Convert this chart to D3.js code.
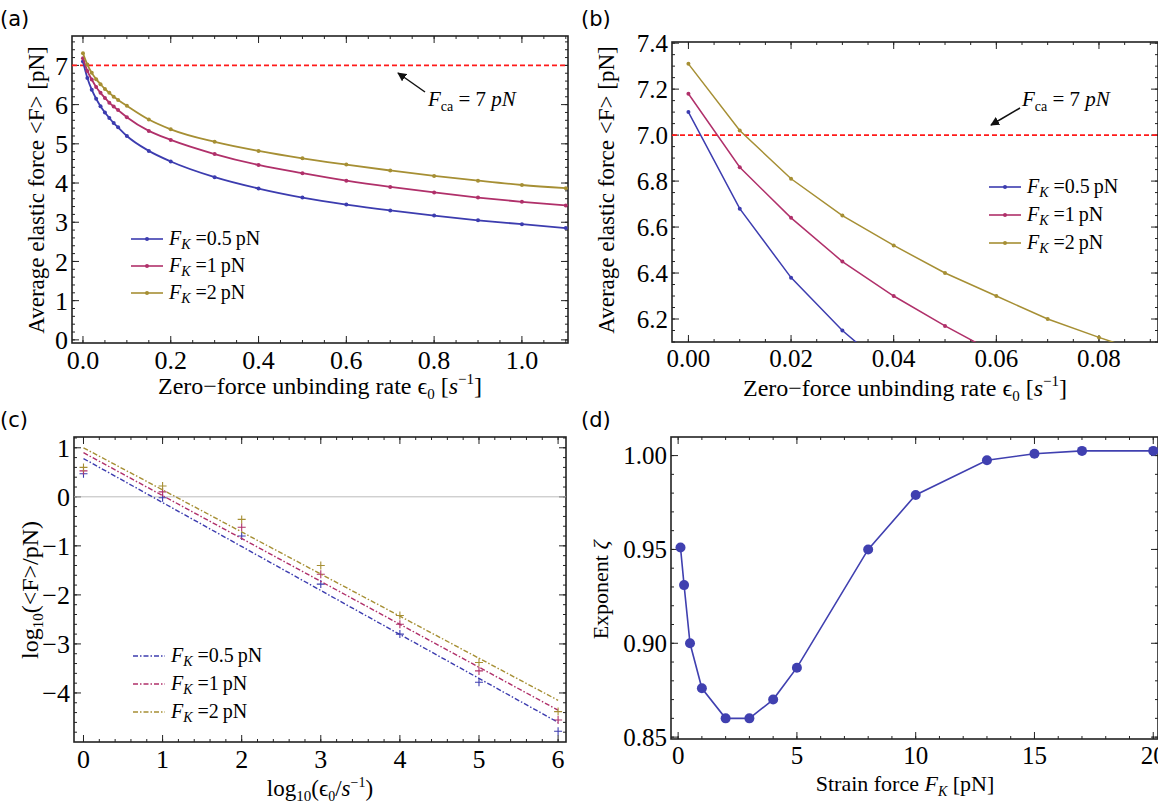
<!DOCTYPE html>
<html><head><meta charset="utf-8">
<script src="https://cdn.jsdelivr.net/npm/d3@7"></script>
<style>body{margin:0;background:#fff}svg{font-family:"Liberation Serif","DejaVu Serif",serif}</style>
</head><body><svg id="fig" width="1158" height="803"></svg>
<script>
// panel a/b data
const eps = [0,0.01,0.02,0.03,0.04,0.05,0.06,0.07,0.08,0.1,0.15,0.2,0.3,0.4,0.5,0.6,0.7,0.8,0.9,1.0,1.1];
const fBlue = [7.1,6.68,6.38,6.15,5.96,5.8,5.66,5.53,5.42,5.2,4.82,4.55,4.15,3.86,3.63,3.45,3.3,3.17,3.05,2.95,2.85];
const fPink = [7.18,6.86,6.64,6.45,6.3,6.17,6.05,5.95,5.86,5.68,5.33,5.1,4.74,4.46,4.25,4.06,3.9,3.76,3.63,3.52,3.43];
const fGold = [7.31,7.02,6.81,6.65,6.52,6.4,6.3,6.2,6.12,5.97,5.62,5.37,5.05,4.82,4.63,4.47,4.32,4.18,4.06,3.95,3.87];
// panel c data
const logEps = [0,1,2,3,4,5,6];
const logBlue = [0.47,-0.02,-0.8,-1.78,-2.8,-3.78,-4.78];
const logPink = [0.53,0.1,-0.62,-1.58,-2.6,-3.55,-4.55];
const logGold = [0.6,0.22,-0.46,-1.4,-2.42,-3.38,-4.38];
const fitBlue = [0.78,-4.6], fitPink = [0.9,-4.35], fitGold = [1.0,-4.15];
// panel d data
const fk = [0.1,0.25,0.5,1,2,3,4,5,8,10,13,15,17,20];
const zeta = [0.951,0.931,0.90,0.876,0.86,0.86,0.87,0.887,0.95,0.979,0.9975,1.001,1.0025,1.0025];

const legendNames = ["0.5","1","2"];
const cols = ["#3c3caf","#b0306a","#a68f34"];
const svg = d3.select("#fig");
svg.append("defs").append("marker").attr("id","arr").attr("viewBox","0 0 10 10").attr("refX",9).attr("refY",5)
  .attr("markerWidth",6).attr("markerHeight",6).attr("orient","auto").append("path").attr("d","M0,0L10,5L0,10z").attr("fill","#111");

function frame(box, xd, yd, xt, yt, xminor, yminor, xfmt, yfmt, fs) {
  const x = d3.scaleLinear().domain(xd).range([box.l, box.r]);
  const y = d3.scaleLinear().domain(yd).range([box.b, box.t]);
  const g = svg.append("g");
  g.append("rect").attr("x",box.l).attr("y",box.t).attr("width",box.r-box.l).attr("height",box.b-box.t)
    .attr("fill","none").attr("stroke","#222").attr("stroke-width",1.6);
  const tk = (v, len, ax) => {
    if (ax==="x") { const px=x(v); if(px<box.l||px>box.r) return;
      g.append("line").attr("x1",px).attr("x2",px).attr("y1",box.b).attr("y2",box.b-len).attr("stroke","#222");
      g.append("line").attr("x1",px).attr("x2",px).attr("y1",box.t).attr("y2",box.t+len).attr("stroke","#222");
    } else { const py=y(v); if(py<box.t||py>box.b) return;
      g.append("line").attr("y1",py).attr("y2",py).attr("x1",box.l).attr("x2",box.l+len).attr("stroke","#222");
      g.append("line").attr("y1",py).attr("y2",py).attr("x1",box.r).attr("x2",box.r-len).attr("stroke","#222");
    }
  };
  xminor.forEach(v=>tk(v,3,"x")); yminor.forEach(v=>tk(v,3,"y"));
  xt.forEach(v=>{tk(v,7,"x"); g.append("text").attr("x",x(v)).attr("y",box.b+fs).attr("text-anchor","middle").attr("font-size",fs).text(xfmt(v));});
  yt.forEach(v=>{tk(v,7,"y"); g.append("text").attr("x",box.l-4).attr("y",y(v)+fs*0.35).attr("text-anchor","end").attr("font-size",fs).text(yfmt(v));});
  return {x,y,g};
}
const rng = (a,b,s) => d3.range(Math.round((b-a)/s)+1).map(i=>+(a+i*s).toFixed(4));
const minus = s => s.replace("-","\u2212");

function ylabel(cx, cy, html, fs) {
  svg.append("text").attr("transform",`translate(${cx},${cy}) rotate(-90)`).attr("text-anchor","middle").attr("font-size",fs||22).html(html);
}
function legend(x0, y0, dy, dash, marker) {
  legendNames.forEach((n,i)=>{
    const yy=y0+i*dy;
    svg.append("line").attr("x1",x0).attr("x2",x0+32).attr("y1",yy).attr("y2",yy).attr("stroke",cols[i]).attr("stroke-width",1.6).attr("stroke-dasharray",dash);
    if(marker) svg.append("circle").attr("cx",x0+16).attr("cy",yy).attr("r",2).attr("fill",cols[i]);
    svg.append("text").attr("x",x0+38).attr("y",yy+6).attr("font-size",20)
      .html(`<tspan font-style="italic">F</tspan><tspan font-style="italic" font-size="14" dy="4">K</tspan><tspan dy="-4"> =${n}\u2009pN</tspan>`);
  });
}
const series = [fBlue,fPink,fGold];
const xlab1 = 'Zero\u2212force unbinding rate \u03f5<tspan font-size="15" dy="5">0</tspan><tspan dy="-5"> [</tspan><tspan font-style="italic">s</tspan><tspan font-size="15" dy="-10">\u22121</tspan><tspan dy="10">]</tspan>';
const fca = '<tspan font-style="italic">F</tspan><tspan font-size="14" dy="5">ca</tspan><tspan dy="-5"> = 7 </tspan><tspan font-style="italic">pN</tspan>';

// ---- (a)
{
  const box={l:72,r:568,t:36,b:343};
  const {x,y}=frame(box,[-0.025,1.105],[-0.08,7.75],rng(0,1,0.2),d3.range(0,8),rng(0,1.1,0.05),rng(0,7.6,0.2),d=>d.toFixed(1),d=>d,26);
  svg.append("line").attr("x1",box.l).attr("x2",box.r).attr("y1",y(7)).attr("y2",y(7)).attr("stroke","#ff1a1a").attr("stroke-width",1.6).attr("stroke-dasharray","5,3");
  series.forEach((s,i)=>{
    const pts=eps.map((e,j)=>[e,s[j]]);
    svg.append("path").datum(pts).attr("fill","none").attr("stroke",cols[i]).attr("stroke-width",1.8)
      .attr("d",d3.line().x(d=>x(d[0])).y(d=>y(d[1])).curve(d3.curveMonotoneX));
    svg.append("g").selectAll("circle").data(pts).join("circle").attr("cx",d=>x(d[0])).attr("cy",d=>y(d[1])).attr("r",2).attr("fill",cols[i]);
  });
  svg.append("line").attr("x1",425).attr("y1",92).attr("x2",398).attr("y2",73).attr("stroke","#111").attr("stroke-width",1.5).attr("marker-end","url(#arr)");
  svg.append("text").attr("x",428).attr("y",106).attr("font-size",21).html(fca);
  legend(131,239,27,null,true);
  ylabel(44,190,'Average elastic force &lt;F&gt; [pN]',23);
  svg.append("text").attr("x",320).attr("y",394).attr("text-anchor","middle").attr("font-size",24).html(xlab1);
  svg.append("text").attr("x",0).attr("y",26).attr("font-family","DejaVu Sans").attr("font-size",21).text("(a)");
}
// ---- (b)
{
  const box={l:672,r:1158,t:42,b:342};
  const {x,y}=frame(box,[-0.0032,0.0915],[6.1,7.405],rng(0,0.08,0.02),rng(6.2,7.4,0.2),rng(0,0.09,0.005),rng(6.1,7.4,0.05),d=>d.toFixed(2),d=>d.toFixed(1),25);
  svg.append("line").attr("x1",box.l).attr("x2",box.r).attr("y1",y(7)).attr("y2",y(7)).attr("stroke","#ff1a1a").attr("stroke-width",1.6).attr("stroke-dasharray","5,3");
  svg.append("defs").append("clipPath").attr("id","cb").append("rect").attr("x",box.l).attr("y",box.t).attr("width",box.r-box.l).attr("height",box.b-box.t);
  const gb=svg.append("g").attr("clip-path","url(#cb)");
  series.forEach((s,i)=>{
    const pts=eps.slice(0,11).map((e,j)=>[e,s[j]]);
    gb.append("path").datum(pts).attr("fill","none").attr("stroke",cols[i]).attr("stroke-width",1.5)
      .attr("d",d3.line().x(d=>x(d[0])).y(d=>y(d[1])));
    gb.append("g").selectAll("circle").data(pts).join("circle").attr("cx",d=>x(d[0])).attr("cy",d=>y(d[1])).attr("r",2).attr("fill",cols[i]);
  });
  svg.append("line").attr("x1",1020).attr("y1",108).attr("x2",991).attr("y2",125).attr("stroke","#111").attr("stroke-width",1.5).attr("marker-end","url(#arr)");
  svg.append("text").attr("x",1022).attr("y",106).attr("font-size",21).html(fca);
  legend(989,187,28,null,true);
  ylabel(614,190,'Average elastic force &lt;F&gt; [pN]',23);
  svg.append("text").attr("x",905).attr("y",396).attr("text-anchor","middle").attr("font-size",24).html(xlab1);
  svg.append("text").attr("x",581).attr("y",26).attr("font-family","DejaVu Sans").attr("font-size",21).text("(b)");
}
// ---- (c)
{
  const box={l:74,r:566,t:437,b:742};
  const {x,y}=frame(box,[-0.12,6.1],[-5.0,1.22],logEps,d3.range(-4,2),rng(0,6,0.2),rng(-4.8,1.2,0.2),d=>d,d=>minus(String(d)),26);
  svg.append("line").attr("x1",box.l).attr("x2",box.r).attr("y1",y(0)).attr("y2",y(0)).attr("stroke","#bbb");
  const fits=[fitBlue,fitPink,fitGold], pts=[logBlue,logPink,logGold];
  fits.forEach((f,i)=>{
    svg.append("line").attr("x1",x(0)).attr("x2",x(6)).attr("y1",y(f[0])).attr("y2",y(f[1])).attr("stroke",cols[i]).attr("stroke-width",1.4).attr("stroke-dasharray","5,2,1.5,2");
    svg.append("g").selectAll("path").data(logEps.map((e,j)=>[e,pts[i][j]])).join("path")
      .attr("d",d=>`M${x(d[0])-4},${y(d[1])}h8M${x(d[0])},${y(d[1])-4}v8`).attr("stroke",cols[i]).attr("stroke-width",1.1);
  });
  legend(133,656,28,"5,2,1.5,2",false);
  ylabel(38,590,'log<tspan font-size="15" dy="5">10</tspan><tspan dy="-5">(&lt;F&gt;/pN)</tspan>',24);
  svg.append("text").attr("x",320).attr("y",796).attr("text-anchor","middle").attr("font-size",23)
    .html('log<tspan font-size="15" dy="5">10</tspan><tspan dy="-5">(\u03f5</tspan><tspan font-size="14" dy="5">0</tspan><tspan dy="-5">/</tspan><tspan font-style="italic">s</tspan><tspan font-size="14" dy="-9">\u22121</tspan><tspan dy="9">)</tspan>');
  svg.append("text").attr("x",0).attr("y",427).attr("font-family","DejaVu Sans").attr("font-size",21).text("(c)");
}
// ---- (d)
{
  const box={l:671,r:1158,t:437,b:739};
  const {x,y}=frame(box,[-0.3,20.2],[0.849,1.0099],rng(0,20,5),rng(0.85,1.0,0.05),d3.range(0,21),rng(0.85,1.0,0.01),d=>d,d=>d.toFixed(2),25);
  const pts=fk.map((f,j)=>[f,zeta[j]]);
  svg.append("path").datum(pts).attr("fill","none").attr("stroke","#4040b0").attr("stroke-width",1.6).attr("d",d3.line().x(d=>x(d[0])).y(d=>y(d[1])));
  svg.append("g").selectAll("circle").data(pts).join("circle").attr("cx",d=>x(d[0])).attr("cy",d=>y(d[1])).attr("r",5).attr("fill","#4040b0");
  ylabel(608,590,'Exponent <tspan font-style="italic">\u03b6</tspan>');
  svg.append("text").attr("x",905).attr("y",791).attr("text-anchor","middle").attr("font-size",22)
    .html('Strain force <tspan font-style="italic">F</tspan><tspan font-style="italic" font-size="14" dy="5">K</tspan><tspan dy="-5"> [pN]</tspan>');
  svg.append("text").attr("x",581).attr("y",427).attr("font-family","DejaVu Sans").attr("font-size",21).text("(d)");
}
</script></body></html>
